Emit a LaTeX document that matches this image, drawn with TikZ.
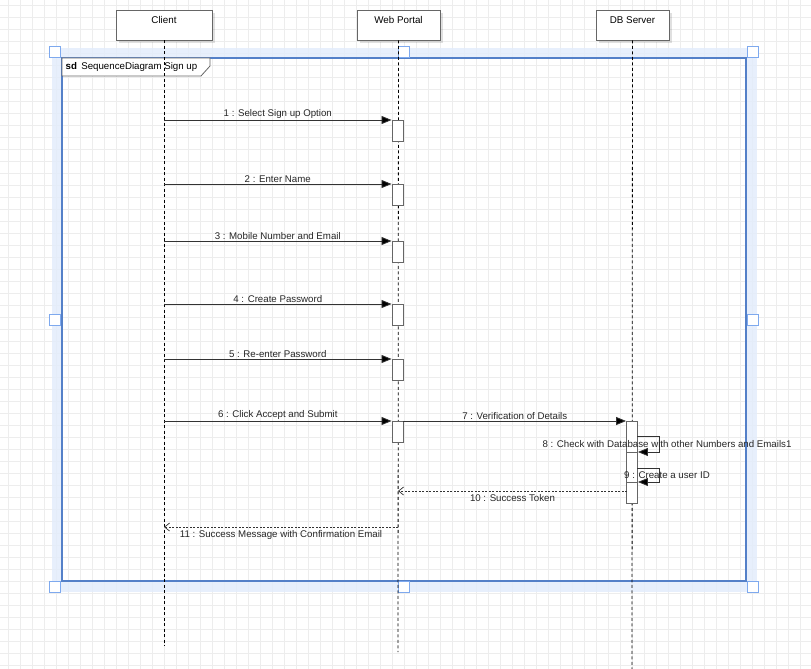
\documentclass[tikz,border=0pt]{standalone}
\usepackage{fontspec}
\setmainfont{Liberation Sans}
\usetikzlibrary{positioning,arrows.meta,shadows}

\definecolor{boxgray}{HTML}{666666}
\definecolor{msggray}{HTML}{333333}
\definecolor{gridgray}{HTML}{EDEDED}
\definecolor{selband}{HTML}{E3ECFB}
\definecolor{selblue}{HTML}{7EA9EE}
\definecolor{frameblue}{HTML}{5480C8}

\tikzset{
  head/.style={draw=boxgray, fill=white, line width=0.9pt, minimum height=30,
    inner xsep=2pt, inner ysep=4pt, text height=9.5pt, text depth=12.5pt,
    font=\fontsize{9.8}{11}\selectfont,
    drop shadow={shadow xshift=3pt, shadow yshift=-3pt, fill=black, opacity=0.12}},
  act/.style={draw=boxgray, fill=white, line width=0.9pt, minimum width=11,
    minimum height=21, inner sep=0pt, anchor=north},
  life/.style={draw=black, line width=0.8pt, dash pattern=on 3pt off 2.5pt},
  msg/.style={draw=msggray, line width=0.8pt, -{Triangle[length=10pt,width=8pt,fill=black]}},
  reply/.style={draw=msggray, line width=0.7pt, dash pattern=on 2pt off 1.5pt,
    -{Straight Barb[length=5pt,width=8pt]}},
  lbl/.style={font=\fontsize{9.7}{11}\selectfont, text=black!85, inner sep=1.5pt},
  gridline/.style={draw=gridgray, line width=0.8pt},
  handle/.style={draw=selblue, fill=white, line width=1.8pt, minimum size=11,
    inner sep=0pt}
}

\begin{document}
\begin{tikzpicture}[x=1pt, y=-1pt]
    \useasboundingbox (0,0) rectangle (811,669);

    % background grid
    \foreach \gx in {0,...,66}
        \draw[gridline] ({8.7+12*\gx},0) -- ++(0,669);
    \foreach \gy in {0,...,55}
        \draw[gridline] (0,{5+12*\gy}) -- ++(811,0);

    % selected frame
    \draw[selband, line width=10.5pt, opacity=0.85] (57,53) rectangle (751.5,587);
    \draw[frameblue, line width=1.4pt] (62,58) rectangle (746,581);
    \draw[boxgray, fill=white, line width=0.8pt] (62,58) -- (210,58) -- (210,66) -- (201,76) -- (62,76) -- cycle;
    \node (sdlabel) [lbl, text=black, anchor=west] at (64,67) {\textbf{sd}\, SequenceDiagram Sign up};
    \foreach \hx/\hy [count=\i] in {55/52, 404/52, 753/52, 55/320, 753/320, 55/587, 404/587, 753/587}
        \node (hnd\i) [handle] at (\hx,\hy) {};

    % lifelines
    \node (client) [head, minimum width=96] at (164,25) {Client};
    \node (portal) [head, minimum width=83] at (398.5,25) {Web Portal};
    \node (dbserver) [head, minimum width=73] at (632.5,25) {DB Server};

    \coordinate (clientEnd) at (164,646);
    \coordinate (portalEnd) at (398,652);
    \coordinate (dbEnd) at (632,669);
    \draw[life] (client) -- (clientEnd);
    \draw[life] (portal) -- (portalEnd);
    \draw[life] (dbserver) -- (dbEnd);

    % activations
    \node (wp1) [act] at (397.5,120) {};
    \node (wp2) [act] at (397.5,184) {};
    \node (wp3) [act] at (397.5,241) {};
    \node (wp4) [act] at (397.5,304) {};
    \node (wp5) [act] at (397.5,359) {};
    \node (wp6) [act] at (397.5,421) {};
    \node (dbA) [act, minimum height=31] at (632,421) {};
    \node (dbB) [act, minimum height=30] at (632,452) {};
    \node (dbC) [act] at (632,482) {};

    % messages
    \coordinate (cl1) at (164,120);
    \coordinate (cl2) at (164,184);
    \coordinate (cl3) at (164,241);
    \coordinate (cl4) at (164,304);
    \coordinate (cl5) at (164,359);
    \coordinate (cl6) at (164,421);
    \draw[msg] (cl1) -- (wp1.north west) node[lbl, midway, above] {1 : Select Sign up Option};
    \draw[msg] (cl2) -- (wp2.north west) node[lbl, midway, above] {2 : Enter Name};
    \draw[msg] (cl3) -- (wp3.north west) node[lbl, midway, above] {3 : Mobile Number and Email};
    \draw[msg] (cl4) -- (wp4.north west) node[lbl, midway, above] {4 : Create Password};
    \draw[msg] (cl5) -- (wp5.north west) node[lbl, midway, above] {5 : Re-enter Password};
    \draw[msg] (cl6) -- (wp6.north west) node[lbl, midway, above] {6 : Click Accept and Submit};
    \draw[msg] (wp6.north east) -- (dbA.north west) node[lbl, midway, above] {7 : Verification of Details};

    \coordinate (s8) at (637,436);
    \coordinate (s9) at (637,468);
    \draw[msg] (s8) -- ++(22,0) -- ++(0,16) node[lbl, midway, xshift=8pt] {8 : Check with Database with other Numbers and Emails1} -- (dbB.north east);
    \draw[msg] (s9) -- ++(22,0) -- ++(0,14) node[lbl, midway, xshift=8pt] {9 : Create a user ID} -- (dbC.north east);

    \coordinate (wp10) at (398,491);
    \coordinate (db10) at (627,491);
    \coordinate (wp11) at (398,527);
    \coordinate (cl11) at (164,527);
    \draw[reply] (db10) -- (wp10) node[lbl, midway, below, yshift=-2pt] {10 : Success Token};
    \draw[reply] (wp11) -- (cl11) node[lbl, midway, below, yshift=-2pt] {11 : Success Message with Confirmation Email};

\end{tikzpicture}
\end{document}
